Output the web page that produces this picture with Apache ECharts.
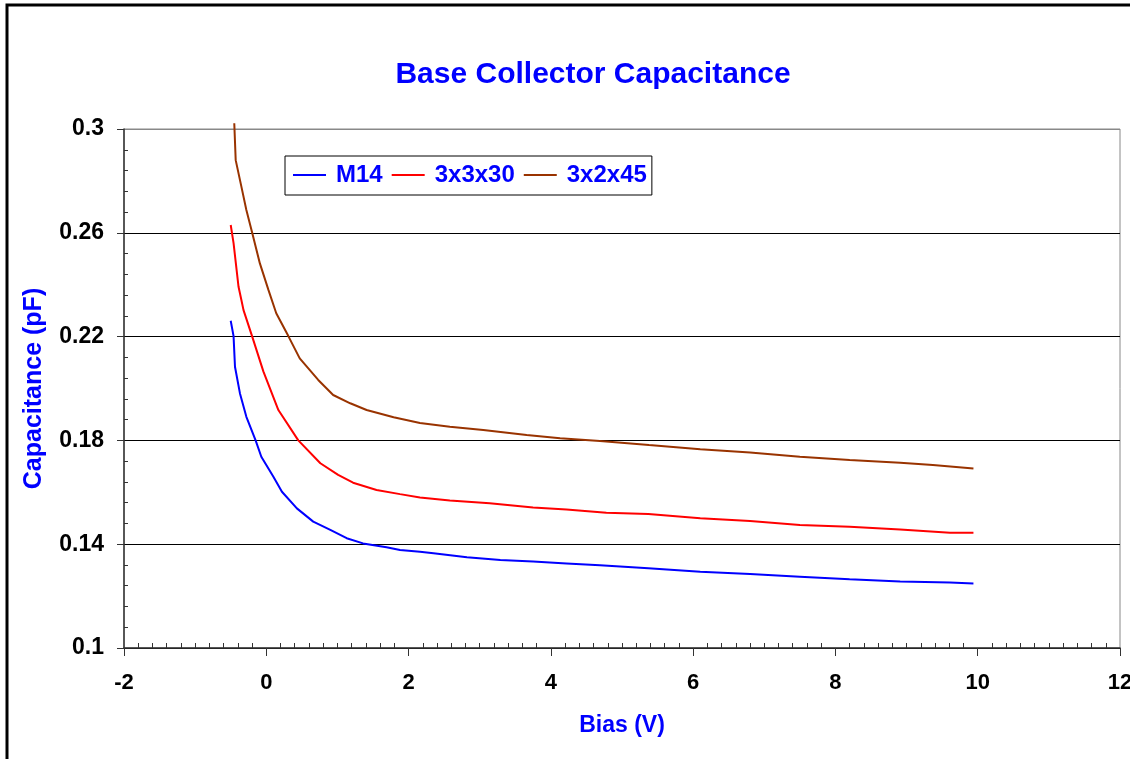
<!DOCTYPE html>
<html>
<head>
<meta charset="utf-8">
<title>Base Collector Capacitance</title>
<script src="https://cdn.jsdelivr.net/npm/echarts@6/dist/echarts.min.js"></script>
<style>
  html, body { margin: 0; padding: 0; background: #fff; }
  #chart { width: 1130px; height: 759px; }
</style>
</head>
<body>
<div id="chart"></div>
<script>
// values
const seriesNames = ['M14', '3x3x30', '3x2x45'];
const seriesColors = ['#0000ff', '#ff0000', '#993300'];

const m14Bias = [-0.5, -0.46, -0.44, -0.37, -0.28, -0.15, -0.07, 0.1, 0.22, 0.43, 0.66, 0.9, 1.13, 1.36, 1.69, 1.88, 2.16, 2.35, 2.82, 3.29, 3.75, 4.22, 4.69, 5.37, 6.1, 6.8, 7.5, 8.2, 8.91, 9.61, 9.94];
const m14Cap = [0.2261, 0.2202, 0.2084, 0.1981, 0.1891, 0.18, 0.1737, 0.166, 0.1602, 0.1538, 0.1487, 0.1455, 0.1423, 0.1403, 0.1388, 0.1378, 0.1371, 0.1365, 0.135, 0.1339, 0.1333, 0.1326, 0.1319, 0.1307, 0.1294, 0.1285, 0.1275, 0.1265, 0.1256, 0.1252, 0.1249];

const r30Bias = [-0.5, -0.46, -0.39, -0.35, -0.32, -0.2, -0.04, 0.17, 0.45, 0.76, 1.01, 1.22, 1.55, 1.88, 2.16, 2.58, 3.14, 3.75, 4.22, 4.78, 5.37, 6.1, 6.8, 7.5, 8.2, 8.91, 9.61, 9.94];
const r30Cap = [0.263, 0.256, 0.2392, 0.2341, 0.2302, 0.2202, 0.2065, 0.1917, 0.18, 0.1712, 0.1667, 0.1637, 0.1609, 0.1593, 0.158, 0.1568, 0.1558, 0.1541, 0.1534, 0.1521, 0.1516, 0.15, 0.1489, 0.1474, 0.1467, 0.1457, 0.1444, 0.1444];

const b45Bias = [-0.45, -0.43, -0.35, -0.28, -0.2, -0.09, 0.03, 0.14, 0.31, 0.47, 0.73, 0.94, 1.18, 1.41, 1.79, 2.16, 2.58, 3.05, 3.66, 4.13, 4.69, 5.38, 6.1, 6.8, 7.5, 8.2, 8.91, 9.37, 9.94];
const b45Cap = [0.3022, 0.288, 0.2778, 0.2688, 0.2602, 0.2482, 0.238, 0.229, 0.2202, 0.2116, 0.2033, 0.1975, 0.1943, 0.1917, 0.1889, 0.1867, 0.1853, 0.184, 0.1821, 0.1808, 0.1798, 0.1782, 0.1766, 0.1753, 0.1737, 0.1724, 0.1714, 0.1705, 0.1692];

const xTicks = [-2, 0, 2, 4, 6, 8, 10, 12];
const yTicks = [0.1, 0.14, 0.18, 0.22, 0.26, 0.3];

function pairs(xs, ys) {
  return xs.map((x, i) => [x, ys[i]]);
}

const font = "'Liberation Sans', Arial, sans-serif";
const chart = echarts.init(document.getElementById('chart'));

const option = {
  animation: false,
  backgroundColor: '#ffffff',
  title: {
    text: 'Base Collector Capacitance',
    left: 588,
    top: 55,
    textAlign: 'center',
    textStyle: { color: '#0000ff', fontFamily: font, fontWeight: 'bold', fontSize: 30 }
  },
  legend: {
    left: 285,
    top: 156,
    orient: 'horizontal',
    data: seriesNames,
    icon: 'rect',
    borderColor: '#000',
    borderWidth: 1,
    padding: [7, 5, 8, 8],
    itemWidth: 33,
    itemHeight: 2,
    itemGap: 9,
    textStyle: { color: '#0000ff', fontFamily: font, fontWeight: 'bold', fontSize: 24, padding: [0, 0, 0, 5] }
  },
  grid: {
    left: 124,
    top: 129,
    right: 10,
    bottom: 111,
    show: true,
    borderColor: '#888',
    borderWidth: 1,
    containLabel: false,
    outerBoundsMode: 'none'
  },
  xAxis: {
    type: 'value',
    min: xTicks[0],
    max: xTicks[xTicks.length - 1],
    interval: 2,
    name: 'Bias (V)',
    nameLocation: 'middle',
    nameGap: 66,
    nameTextStyle: { color: '#0000ff', fontFamily: font, fontWeight: 'bold', fontSize: 23 },
    axisLine: { show: true, onZero: false, lineStyle: { color: '#333', width: 1.5 } },
    axisTick: { show: true, inside: false, length: 8, lineStyle: { color: '#333' } },
    minorTick: { show: true, splitNumber: 10, length: -5, lineStyle: { color: '#333' } },
    splitLine: { show: false },
    axisLabel: { color: '#000', fontFamily: font, fontWeight: 'bold', fontSize: 22, margin: 24 }
  },
  yAxis: {
    type: 'value',
    min: yTicks[0],
    max: yTicks[yTicks.length - 1],
    interval: 0.04,
    name: 'Capacitance (pF)',
    nameLocation: 'middle',
    nameGap: 77,
    nameTextStyle: { color: '#0000ff', fontFamily: font, fontWeight: 'bold', fontSize: 25 },
    axisLine: { show: true, onZero: false, lineStyle: { color: '#333', width: 1.5 } },
    axisTick: { show: true, inside: false, length: 7, lineStyle: { color: '#333' } },
    minorTick: { show: true, splitNumber: 5, length: -4, lineStyle: { color: '#333' } },
    splitLine: {
      show: true,
      lineStyle: { color: ['#000', '#000', '#000', '#000', '#000', '#888'], width: 1 }
    },
    axisLabel: {
      color: '#000', fontFamily: font, fontWeight: 'bold', fontSize: 23, margin: 20,
      formatter: v => String(Math.round(v * 100) / 100)
    }
  },
  graphic: [
    {
      type: 'rect',
      silent: true,
      shape: { x: 7, y: 5, width: 1300, height: 900 },
      style: { fill: 'none', stroke: '#000', lineWidth: 3 }
    }
  ],
  series: [
    {
      name: seriesNames[0],
      type: 'line',
      data: pairs(m14Bias, m14Cap),
      symbol: 'none',
      clip: false,
      color: seriesColors[0],
      lineStyle: { color: seriesColors[0], width: 2 }
    },
    {
      name: seriesNames[1],
      type: 'line',
      data: pairs(r30Bias, r30Cap),
      symbol: 'none',
      clip: false,
      color: seriesColors[1],
      lineStyle: { color: seriesColors[1], width: 2 }
    },
    {
      name: seriesNames[2],
      type: 'line',
      data: pairs(b45Bias, b45Cap),
      symbol: 'none',
      clip: false,
      color: seriesColors[2],
      lineStyle: { color: seriesColors[2], width: 2 }
    }
  ]
};

chart.setOption(option);
</script>
</body>
</html>
